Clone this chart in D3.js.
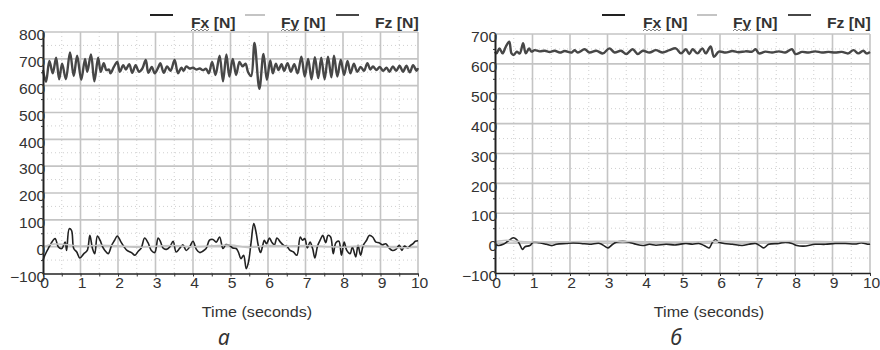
<!DOCTYPE html>
<html>
<head>
<meta charset="utf-8">
<script src="https://cdn.jsdelivr.net/npm/d3@7"></script>
<style>
  body { margin: 0; background: #fff; }
  svg { display: block; }
  text { font-family: "Liberation Sans", Arial, sans-serif; fill: #333; }
</style>
</head>
<body>
<div id="chart"></div>
<script>
// ---- data ----
const timeTicks = [0, 1, 2, 3, 4, 5, 6, 7, 8, 9, 10];
const forceTicksA = [-100, 0, 100, 200, 300, 400, 500, 600, 700, 800];
const forceTicksB = [-100, 0, 100, 200, 300, 400, 500, 600, 700];
const seriesNames = ['Fx [N]', 'Fy [N]', 'Fz [N]'];
const panelNames = ['а', 'б'];
const xTitle = 'Time (seconds)';

// panel a: [time s, force N]
const fzA = [[0,658],[0.08,614],[0.17,692],[0.26,646],[0.35,704],[0.43,624],[0.51,682],[0.61,624],[0.72,724],[0.82,636],[0.91,712],[1.02,622],[1.12,700],[1.18,652],[1.28,716],[1.37,616],[1.47,704],[1.54,652],[1.62,684],[1.69,658],[1.76,660],[1.80,646],[1.89,670],[1.98,688],[2.05,652],[2.14,676],[2.21,660],[2.30,680],[2.38,648],[2.47,676],[2.56,652],[2.65,664],[2.74,696],[2.81,648],[2.90,670],[2.98,646],[3.07,667],[3.13,684],[3.22,648],[3.31,672],[3.40,655],[3.51,696],[3.60,646],[3.69,667],[3.75,655],[3.82,672],[3.91,664],[4.00,667],[4.09,660],[4.18,664],[4.26,658],[4.35,663],[4.42,646],[4.51,688],[4.60,640],[4.71,712],[4.80,616],[4.89,716],[4.97,634],[5.06,700],[5.15,640],[5.24,688],[5.32,672],[5.40,682],[5.47,650],[5.55,636],[5.64,759],[5.77,588],[5.88,718],[5.97,622],[6.06,694],[6.13,646],[6.21,682],[6.28,658],[6.36,680],[6.43,655],[6.52,684],[6.61,652],[6.70,680],[6.79,646],[6.89,708],[6.98,634],[7.07,700],[7.16,624],[7.25,706],[7.34,628],[7.42,704],[7.51,624],[7.60,708],[7.69,631],[7.76,712],[7.85,634],[7.94,696],[8.03,640],[8.12,692],[8.20,646],[8.29,682],[8.38,652],[8.47,670],[8.56,655],[8.65,684],[8.73,660],[8.80,672],[8.89,658],[8.98,670],[9.07,655],[9.16,667],[9.24,652],[9.33,672],[9.42,655],[9.51,674],[9.60,652],[9.69,674],[9.78,650],[9.87,676],[9.96,655],[10,665]];
const fxA = [[0,-51],[0.05,-32],[0.14,-7],[0.32,30],[0.41,-1],[0.50,-7],[0.59,17],[0.63,-14],[0.70,67],[0.76,61],[0.82,-7],[0.90,-20],[0.98,-42],[1.09,-26],[1.18,-14],[1.25,42],[1.32,-7],[1.38,-26],[1.45,40],[1.52,24],[1.59,-1],[1.65,-14],[1.74,-26],[1.83,5],[1.91,24],[1.98,40],[2.07,20],[2.15,2],[2.24,-14],[2.36,-22],[2.45,-32],[2.54,-17],[2.62,-5],[2.71,32],[2.80,15],[2.89,-14],[2.98,-22],[3.07,32],[3.13,20],[3.20,-5],[3.29,-10],[3.38,-1],[3.47,20],[3.55,-20],[3.64,-7],[3.73,7],[3.82,-14],[3.91,-1],[4.00,20],[4.09,-10],[4.18,-22],[4.26,-17],[4.35,-7],[4.44,24],[4.53,27],[4.62,17],[4.71,36],[4.80,-7],[4.88,8],[4.97,5],[5.06,-5],[5.15,-7],[5.21,-20],[5.28,-45],[5.35,-32],[5.42,-82],[5.48,-57],[5.55,17],[5.62,86],[5.68,55],[5.74,5],[5.80,-22],[5.86,5],[5.90,24],[5.96,11],[6.04,32],[6.10,17],[6.17,7],[6.24,32],[6.33,17],[6.42,5],[6.50,2],[6.59,-14],[6.68,-20],[6.77,-32],[6.86,36],[6.92,24],[6.98,30],[7.05,-5],[7.12,17],[7.19,-7],[7.25,-42],[7.32,2],[7.39,24],[7.46,42],[7.54,15],[7.60,42],[7.67,36],[7.74,-26],[7.81,15],[7.89,20],[7.96,-32],[8.03,17],[8.10,-14],[8.19,-26],[8.25,-1],[8.34,-38],[8.40,5],[8.47,-32],[8.54,5],[8.63,24],[8.70,42],[8.79,36],[8.88,17],[8.96,15],[9.05,7],[9.14,11],[9.23,-5],[9.32,-14],[9.41,-10],[9.50,5],[9.57,-14],[9.64,2],[9.73,-5],[9.80,5],[9.87,11],[9.93,20],[10,22]];
const fyA = [[0,0],[0.3,10],[0.6,8],[1,2],[1.5,5],[2,3],[2.5,-2],[3,2],[3.5,4],[4,0],[4.5,3],[5,6],[5.5,-3],[6,4],[6.5,2],[7,4],[7.5,1],[8,-2],[8.5,3],[9,0],[9.5,-4],[10,-2]];

// panel б
const fzB = [[0,640],[0.04,635],[0.12,652],[0.20,635],[0.29,658],[0.38,674],[0.44,635],[0.50,630],[0.58,641],[0.66,635],[0.75,669],[0.82,635],[0.91,652],[0.97,641],[1.06,646],[1.19,642],[1.33,644],[1.46,640],[1.59,644],[1.73,638],[1.86,643],[2.04,638],[2.12,646],[2.21,638],[2.39,649],[2.52,638],[2.70,644],[2.88,635],[3.05,652],[3.19,638],[3.36,644],[3.50,633],[3.67,649],[3.81,633],[3.94,644],[4.12,638],[4.29,646],[4.47,638],[4.65,646],[4.82,652],[4.96,635],[5.09,649],[5.18,633],[5.27,649],[5.40,635],[5.53,652],[5.62,635],[5.75,658],[5.84,624],[5.97,641],[6.15,638],[6.33,643],[6.50,639],[6.68,642],[6.86,641],[6.95,649],[7.04,635],[7.21,641],[7.39,638],[7.57,642],[7.74,638],[7.92,649],[8.01,633],[8.19,640],[8.36,638],[8.54,642],[8.72,638],[8.89,640],[9.07,638],[9.25,640],[9.42,635],[9.56,646],[9.69,635],[9.82,644],[9.91,635],[10,640]];
const fxB = [[0,-4],[0.09,-8],[0.22,-4],[0.35,7],[0.49,18],[0.58,12],[0.66,-4],[0.73,-21],[0.80,-12],[0.93,-8],[1.02,3],[1.19,1],[1.37,-4],[1.50,-8],[1.64,-4],[1.90,-1],[2.08,1],[2.30,-1],[2.52,-4],[2.79,-1],[2.92,-10],[3.01,-16],[3.10,-8],[3.23,3],[3.41,6],[3.58,3],[3.76,-4],[3.94,-8],[4.12,-4],[4.29,-7],[4.56,-4],[4.82,-6],[5.09,-1],[5.27,-4],[5.44,-1],[5.58,-8],[5.71,-16],[5.80,3],[5.88,12],[5.97,3],[6.11,-1],[6.33,-4],[6.59,-8],[6.77,-4],[6.95,-1],[7.08,-10],[7.17,-16],[7.30,-4],[7.57,-1],[7.74,3],[7.92,-1],[8.05,-8],[8.23,-10],[8.54,-4],[8.81,-4],[9.07,-1],[9.34,-1],[9.60,-3],[9.78,1],[9.96,-4],[10,-3]];
const fyB = [[0,5],[0.3,10],[0.6,6],[1,4],[2,5],[3,6],[4,5],[5,4],[6,6],[7,5],[8,6],[9,5],[10,4]];

// ---- drawing ----
const W = 880, H = 350;
const svg = d3.select('#chart').append('svg').attr('width', W).attr('height', H);

const styles = [
  { color: '#222', width: 1.6 },     // Fx
  { color: '#c4c4c4', width: 1.5 },  // Fy
  { color: '#474747', width: 2.4 }   // Fz
];
// legend offsets from the panel's left edge
const legendLine = [[107, 130], [202, 222], [293, 316]];
const legendText = [148, 238, 332];

function stretched(sel, sx) {
  return sel.attr('transform', `scale(${sx},1)`);
}

function drawPanel(p) {
  const x = d3.scaleLinear().domain([0, 10]).range([p.left, p.right]);
  const y = d3.scaleLinear().domain(d3.extent(p.yTicks)).range([p.bottom, p.top]);
  const g = svg.append('g');

  const halfX = timeTicks.slice(0, -1).map(t => t + 0.5);
  const halfY = p.yTicks.slice(0, -1).map(v => v + 50);

  // minor grid (dotted)
  g.selectAll(null).data(halfX).join('line')
    .attr('x1', d => x(d)).attr('x2', d => x(d))
    .attr('y1', p.top).attr('y2', p.bottom)
    .attr('stroke', '#cfcfcf').attr('stroke-dasharray', '1,3');
  g.selectAll(null).data(halfY).join('line')
    .attr('x1', p.left).attr('x2', p.right)
    .attr('y1', d => y(d)).attr('y2', d => y(d))
    .attr('stroke', '#cfcfcf').attr('stroke-dasharray', '1,3');

  // major grid
  g.selectAll(null).data(timeTicks.slice(1)).join('line')
    .attr('x1', d => x(d)).attr('x2', d => x(d))
    .attr('y1', p.top).attr('y2', p.bottom)
    .attr('stroke', '#c4c4c4').attr('stroke-width', 1.6);
  g.selectAll(null).data(p.yTicks.slice(1)).join('line')
    .attr('x1', p.left).attr('x2', p.right)
    .attr('y1', d => y(d)).attr('y2', d => y(d))
    .attr('stroke', '#c4c4c4').attr('stroke-width', 1.6);

  // series
  const line = d3.line().x(d => x(d[0])).y(d => y(d[1])).curve(d3.curveCatmullRom.alpha(0.5));
  [p.fx, p.fy, p.fz].forEach((data, i) => {
    g.append('path').datum(data)
      .attr('d', line)
      .attr('fill', 'none')
      .attr('stroke', styles[i].color)
      .attr('stroke-width', styles[i].width)
      .attr('stroke-linejoin', 'round');
  });

  // x axis
  const xAxis = g.append('g').attr('transform', `translate(0,${p.bottom})`)
    .call(d3.axisBottom(x).tickValues(timeTicks).tickSize(3).tickSizeOuter(0).tickPadding(2));
  xAxis.append('g')
    .call(d3.axisBottom(x).tickValues(halfX).tickSize(3).tickFormat(''))
    .select('.domain').remove();
  xAxis.select('.domain').attr('stroke', '#222').attr('stroke-width', 1.5);
  xAxis.selectAll('.tick line').attr('stroke', '#333');
  stretched(xAxis.selectAll('text'), 1.12)
    .attr('x', 1)
    .style('font-family', '"Liberation Sans", Arial, sans-serif')
    .style('font-size', '14px').attr('fill', '#333');

  // y axis
  const yAxis = g.append('g').attr('transform', `translate(${p.left},0)`)
    .call(d3.axisLeft(y).tickValues(p.yTicks).tickSize(0).tickSizeOuter(0).tickPadding(-2));
  yAxis.append('g')
    .call(d3.axisLeft(y).tickValues(halfY).tickSize(2).tickFormat(''))
    .select('.domain').remove();
  yAxis.select('.domain').attr('stroke', '#222').attr('stroke-width', 2);
  yAxis.selectAll('.tick line').attr('stroke', '#333');
  stretched(yAxis.selectAll('text'), 1.12)
    .attr('dy', '0.55em')
    .style('font-family', '"Liberation Sans", Arial, sans-serif')
    .style('font-size', '14px').attr('fill', '#333');

  // legend
  seriesNames.forEach((name, i) => {
    g.append('line')
      .attr('x1', p.left + legendLine[i][0]).attr('x2', p.left + legendLine[i][1])
      .attr('y1', 15).attr('y2', 15)
      .attr('stroke', styles[i].color).attr('stroke-width', 2);
    g.append('text')
      .attr('transform', `translate(${p.left + legendText[i]},28) scale(1.05,1)`)
      .style('font-size', '15px').style('font-weight', 'bold')
      .attr('fill', '#222')
      .text(name);
    // spell-check squiggle under "Fx" / "Fy"
    if (i < 2) {
      const x0 = p.left + legendText[i];
      const pts = d3.range(0, 10).map(k => [x0 + k * 2, k % 2 ? 29 : 31]);
      g.append('path').attr('d', d3.line()(pts))
        .attr('fill', 'none').attr('stroke', '#666').attr('stroke-width', 0.8);
    }
  });

  // axis title + panel label
  g.append('text')
    .attr('transform', `translate(${p.left + 214},317) scale(1.15,1)`)
    .attr('text-anchor', 'middle')
    .style('font-size', '14px')
    .text(xTitle);
  g.append('text')
    .attr('x', p.left + 181).attr('y', 345)
    .attr('text-anchor', 'middle')
    .style('font-family', '"Noto Sans", sans-serif')
    .style('font-style', 'italic')
    .style('font-size', '21px')
    .attr('fill', '#111')
    .text(p.name);
}

drawPanel({ left: 43, right: 418, top: 32, bottom: 273.5, yTicks: forceTicksA,
  fx: fxA, fy: fyA, fz: fzA, name: panelNames[0] });
drawPanel({ left: 495, right: 870, top: 34, bottom: 273, yTicks: forceTicksB,
  fx: fxB, fy: fyB, fz: fzB, name: panelNames[1] });
</script>
</body>
</html>
